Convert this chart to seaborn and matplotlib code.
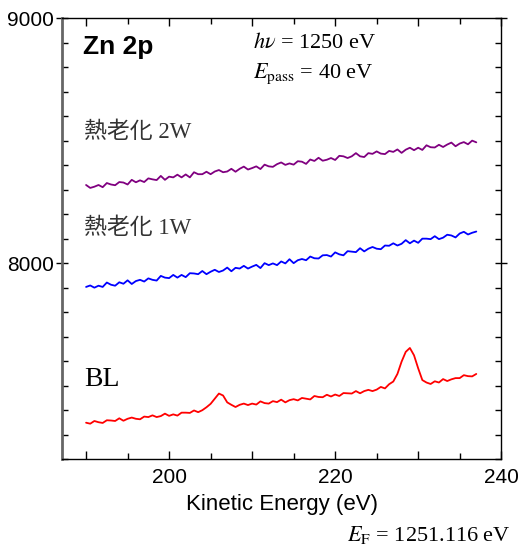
import numpy as np
import pandas as pd
import matplotlib
matplotlib.use("Agg")
import matplotlib.pyplot as plt
from matplotlib.ticker import MultipleLocator, FuncFormatter
import seaborn as sns

# ──────────────────────────────────────────────
# Data (0.5 eV steps)
# ──────────────────────────────────────────────
kinetic_energy = [190.0 + 0.5 * i for i in range(95)]

bl_counts = [
    7349, 7345, 7356, 7351, 7348, 7359, 7358, 7356, 7367, 7357,
    7365, 7370, 7365, 7363, 7374, 7372, 7379, 7372, 7376, 7386,
    7377, 7383, 7378, 7390, 7390, 7389, 7399, 7392, 7400, 7412,
    7426, 7447, 7468, 7460, 7432, 7422, 7413, 7422, 7427, 7421,
    7427, 7423, 7436, 7429, 7427, 7437, 7433, 7443, 7432, 7441,
    7445, 7440, 7450, 7447, 7444, 7458, 7454, 7453, 7463, 7456,
    7464, 7458, 7470, 7469, 7468, 7478, 7469, 7478, 7483, 7478,
    7484, 7495, 7489, 7506, 7517, 7548, 7598, 7638, 7654, 7624,
    7571, 7523, 7513, 7507, 7518, 7513, 7527, 7519, 7526, 7531,
    7531, 7543, 7539, 7538, 7548,
]

aged_1w_counts = [
    7903, 7909, 7900, 7908, 7903, 7921, 7912, 7908, 7922, 7916,
    7930, 7915, 7927, 7932, 7925, 7938, 7932, 7929, 7948, 7941,
    7939, 7952, 7941, 7952, 7943, 7959, 7958, 7955, 7968, 7955,
    7965, 7973, 7964, 7970, 7982, 7967, 7981, 7978, 7989, 7978,
    7986, 7993, 7980, 8000, 7992, 7999, 7992, 8007, 7999, 8016,
    8000, 8012, 8017, 8012, 8027, 8020, 8019, 8032, 8033, 8027,
    8044, 8036, 8032, 8049, 8047, 8045, 8061, 8048, 8059, 8066,
    8059, 8057, 8072, 8071, 8081, 8072, 8079, 8094, 8081, 8092,
    8083, 8100, 8100, 8098, 8110, 8098, 8104, 8116, 8113, 8105,
    8121, 8128, 8117, 8124, 8129,
]

aged_2w_counts = [
    8319, 8307, 8312, 8319, 8310, 8327, 8321, 8318, 8331, 8329,
    8321, 8340, 8330, 8338, 8331, 8346, 8342, 8339, 8356, 8340,
    8353, 8350, 8361, 8350, 8362, 8350, 8371, 8363, 8363, 8373,
    8363, 8374, 8380, 8371, 8374, 8385, 8373, 8385, 8394, 8382,
    8388, 8395, 8384, 8402, 8395, 8393, 8404, 8411, 8401, 8407,
    8402, 8416, 8414, 8405, 8423, 8417, 8430, 8418, 8422, 8429,
    8421, 8438, 8436, 8429, 8436, 8449, 8436, 8433, 8449, 8446,
    8456, 8447, 8445, 8458, 8454, 8464, 8450, 8463, 8471, 8461,
    8471, 8462, 8481, 8473, 8472, 8483, 8474, 8484, 8492, 8477,
    8488, 8494, 8485, 8500, 8493,
]

series_names = ["BL", "熱老化 1W", "熱老化 2W"]
series_colors = {"BL": "#ff0000", "熱老化 1W": "#0000ff", "熱老化 2W": "#800080"}

# ──────────────────────────────────────────────
# Plot
# ──────────────────────────────────────────────
sns.set_theme(style="ticks")
plt.rcParams["font.family"] = ["Liberation Sans", "DejaVu Sans"]
plt.rcParams["mathtext.fontset"] = "stix"

df = pd.concat([
    pd.DataFrame({"ke": kinetic_energy, "counts": vals, "sample": name})
    for name, vals in zip(series_names, [bl_counts, aged_1w_counts, aged_2w_counts])
])

fig = plt.figure(figsize=(5.21, 5.48), dpi=100)
ax = fig.add_axes([0.119, 0.162, 0.843, 0.805])

sns.lineplot(data=df, x="ke", y="counts", hue="sample", palette=series_colors,
             estimator=None, linewidth=1.3, legend=False, ax=ax)

ax.set_xlim(187.1, 240)
ax.set_ylim(7200, 9000)

ax.xaxis.set_major_locator(MultipleLocator(10))
ax.xaxis.set_minor_locator(MultipleLocator(5))
ax.xaxis.set_major_formatter(FuncFormatter(lambda v, p: f"{v:.0f}" if round(v) % 20 == 0 else ""))
ax.yaxis.set_major_locator(MultipleLocator(1000))
ax.yaxis.set_minor_locator(MultipleLocator(100))

ax.tick_params(which="both", direction="in", top=True, right=True, colors="black",
               labelsize=15)
ax.tick_params(which="major", length=6, width=1)
ax.tick_params(which="minor", length=4, width=1)
ax.tick_params(axis="x", which="major", pad=6)
ax.tick_params(axis="y", which="major", direction="inout", length=9, pad=1)

for side in ["top", "right", "bottom"]:
    ax.spines[side].set_color("black")
    ax.spines[side].set_linewidth(1.0)
ax.spines["left"].set_color("#666666")
ax.spines["left"].set_linewidth(2.0)

ax.set_xlabel("Kinetic Energy (eV)", fontsize=16, labelpad=5, color="black")
ax.set_ylabel("")

serif_cjk = ["Liberation Serif", "Noto Sans CJK JP"]

ax.text(0.047, 0.934, "Zn 2p", transform=ax.transAxes, fontsize=19,
        fontweight="bold", va="center", ha="left", color="black")
ax.text(0.435, 0.943, r"$h\nu$ = 1250 eV", transform=ax.transAxes, fontsize=16,
        family="Liberation Serif", va="center", ha="left", color="black")
ax.text(0.435, 0.873, r"$E_{\mathrm{pass}}$ = 40 eV", transform=ax.transAxes, fontsize=16,
        family="Liberation Serif", va="center", ha="left", color="black")

ax.text(0.05, 0.741, "熱老化 2W", transform=ax.transAxes, fontsize=16.5,
        family=serif_cjk, va="center", ha="left", color="#333333")
ax.text(0.05, 0.524, "熱老化 1W", transform=ax.transAxes, fontsize=16.5,
        family=serif_cjk, va="center", ha="left", color="#333333")
ax.text(0.05, 0.181, "BL", transform=ax.transAxes, fontsize=20,
        family="Liberation Serif", va="center", ha="left", color="black")

fig.text(0.981, 0.024, r"$E_{\mathrm{F}}$ = 1251.116 eV", fontsize=16,
         family="Liberation Serif", va="center", ha="right", color="black")

fig.savefig("out.png", dpi=100)
